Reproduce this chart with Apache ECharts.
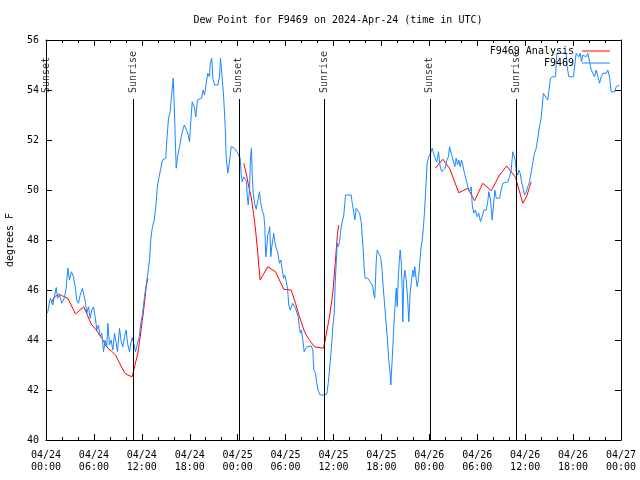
<!DOCTYPE html>
<html>
<head>
<meta charset="utf-8">
<script src="https://cdn.jsdelivr.net/npm/echarts@6/dist/echarts.min.js"></script>
<style>
html,body{margin:0;padding:0;background:#fff;}
#chart{width:640px;height:480px;}
</style>
</head>
<body>
<div id="chart"></div>
<script>
// x values are hours since 2024-04-24 00:00 UTC
var xTickLabels = ['04/24\n00:00','04/24\n06:00','04/24\n12:00','04/24\n18:00','04/25\n00:00','04/25\n06:00','04/25\n12:00','04/25\n18:00','04/26\n00:00','04/26\n06:00','04/26\n12:00','04/26\n18:00','04/27\n00:00'];
var yTicks = [40,42,44,46,48,50,52,54,56];

var sunEventNames = ['Sunset','Sunrise','Sunset','Sunrise','Sunset','Sunrise'];
var sunEventHours = [0.06,10.96,24.14,34.81,48.06,58.88];

var stationHours = [0.19,0.53,0.85,1.06,1.28,1.44,1.69,1.98,2.28,2.53,2.73,2.94,3.19,3.44,3.66,3.86,4.07,4.28,4.57,4.78,4.95,5.11,5.32,5.53,5.74,5.95,6.16,6.36,6.57,6.79,6.99,7.2,7.41,7.61,7.74,7.95,8.16,8.36,8.58,8.79,8.95,9.2,9.42,9.62,9.83,10.04,10.21,10.46,10.62,10.79,11.04,11.21,11.46,11.67,11.87,12.08,12.33,12.55,12.75,12.96,13.12,13.3,13.55,13.75,13.96,14.17,14.38,14.59,14.8,15.0,15.13,15.34,15.55,15.75,15.93,16.05,16.18,16.3,16.47,16.72,16.93,17.13,17.31,17.56,17.76,17.97,18.13,18.31,18.56,18.76,18.97,19.22,19.47,19.68,19.85,20.06,20.26,20.47,20.56,20.76,20.89,21.1,21.51,21.73,21.85,22.01,22.23,22.44,22.56,22.76,22.98,23.19,23.39,23.6,24.02,24.14,24.32,24.44,24.57,24.77,24.94,25.11,25.19,25.32,25.48,25.61,25.73,25.82,25.95,26.11,26.32,26.52,26.73,26.86,27.07,27.27,27.4,27.52,27.65,27.77,27.9,28.02,28.15,28.27,28.4,28.52,28.65,28.83,29.03,29.24,29.4,29.53,29.74,29.9,30.08,30.24,30.4,30.58,30.74,30.9,31.08,31.24,31.4,31.58,31.74,31.87,31.99,32.16,32.33,32.49,32.66,32.83,33.21,33.41,33.53,33.75,33.91,34.12,34.34,34.75,35.16,35.34,35.5,35.75,35.91,36.09,36.21,36.34,36.46,36.59,36.75,36.88,37.0,37.17,37.29,37.42,37.5,37.79,38.0,38.22,38.34,38.5,38.67,38.84,39.04,39.26,39.47,39.59,39.72,39.84,39.97,40.3,40.51,40.72,40.92,41.05,41.17,41.26,41.35,41.47,41.67,41.89,42.05,42.22,42.39,42.55,42.73,42.89,43.05,43.18,43.3,43.43,43.55,43.73,43.85,43.98,44.1,44.23,44.35,44.48,44.6,44.68,44.8,44.93,45.1,45.27,45.43,45.6,45.77,45.93,46.05,46.18,46.36,46.48,46.61,46.77,46.93,47.11,47.27,47.43,47.61,47.73,47.93,48.15,48.36,48.52,48.74,48.94,49.15,49.36,49.56,49.77,49.99,50.19,50.4,50.53,50.74,50.86,51.03,51.19,51.37,51.53,51.69,51.87,52.03,52.19,52.4,52.62,52.82,53.03,53.24,53.37,53.57,53.78,53.99,54.19,54.41,54.62,54.82,55.12,55.32,55.45,55.66,55.87,56.04,56.2,56.38,56.79,57.0,57.2,57.41,57.83,58.04,58.25,58.45,58.58,58.75,58.88,59.08,59.21,59.38,59.54,59.7,59.92,60.13,60.33,60.54,60.76,60.96,61.17,61.38,61.58,61.79,62.0,62.29,62.54,62.83,62.96,63.17,63.46,63.8,63.96,65.14,65.26,65.46,66.05,66.18,66.39,66.72,66.89,67.05,67.22,67.43,67.64,67.84,68.06,68.27,68.47,68.68,68.89,69.1,69.31,69.52,69.72,70.15,70.35,70.56,70.77,71.19,71.4,71.6,71.81];
var stationDewPoint = [45.07,45.67,45.4,45.73,46.1,45.67,45.8,45.47,45.67,46.07,46.87,46.4,46.73,46.53,46.13,45.6,45.47,45.8,46.07,46.0,45.47,45.07,45.33,44.87,45.2,45.33,44.93,44.4,44.6,44.13,44.27,43.53,44.0,43.73,44.67,43.8,44.0,43.6,44.27,43.87,43.53,44.47,43.93,43.73,44.13,44.4,43.87,43.53,43.87,44.1,43.8,43.53,43.87,44.13,44.67,45.0,45.73,46.2,46.67,47.2,48.0,48.47,48.8,49.33,50.2,50.53,50.87,51.2,51.27,51.27,52.0,52.87,53.13,53.87,54.47,53.47,52.13,50.87,51.33,51.73,52.13,52.4,52.6,52.53,52.27,51.93,52.73,53.53,53.33,52.93,53.6,53.67,53.67,54.0,53.8,54.27,54.67,54.53,55.07,55.27,54.47,54.2,54.2,54.53,55.27,54.67,53.8,52.53,51.33,50.67,51.13,51.73,51.8,51.67,51.47,51.4,51.27,50.6,50.33,50.53,50.6,50.33,49.8,49.4,50.0,51.33,51.67,50.67,49.87,49.47,49.23,49.23,49.93,49.53,49.2,49.0,48.53,47.33,47.73,48.2,48.33,48.53,47.33,47.73,48.0,48.27,47.93,47.67,47.47,47.07,47.2,46.93,46.47,46.6,46.33,46.07,45.4,45.2,45.27,45.47,45.4,45.27,45.2,44.93,44.47,44.27,44.4,44.0,43.53,43.53,43.73,43.76,43.76,43.6,42.8,42.67,42.27,41.93,41.8,41.8,41.84,42.27,42.8,43.73,44.53,45.07,46.27,47.07,47.87,47.73,47.93,48.27,48.6,48.67,49.0,49.47,49.8,49.8,49.76,49.8,49.47,49.2,48.8,49.27,49.2,49.07,48.73,48.2,47.6,46.87,46.47,46.47,46.4,46.27,46.13,45.8,45.67,46.4,47.13,47.6,47.47,47.33,46.93,46.13,45.47,44.8,44.13,43.33,42.8,42.2,42.93,43.73,44.53,45.47,46.07,45.33,46.4,47.13,47.6,47.13,46.0,44.73,46.4,46.8,46.4,45.73,44.73,45.87,46.4,46.8,46.53,46.93,46.4,46.13,46.4,46.93,47.6,48.0,48.53,49.33,50.4,51.07,51.33,51.47,51.67,51.47,51.27,51.13,51.53,50.93,50.73,50.73,50.87,51.2,51.33,51.73,51.8,51.33,51.4,50.93,51.27,51.0,51.2,50.93,51.2,51.0,50.67,50.4,50.13,49.93,50.13,49.4,49.07,49.2,48.93,49.07,48.73,48.93,49.2,49.2,49.53,49.93,49.6,48.8,49.4,50.0,49.67,49.67,50.0,50.27,50.33,50.33,50.53,50.8,51.53,51.4,51.2,50.73,50.6,50.8,50.67,50.33,50.13,49.8,49.93,50.13,50.33,50.73,51.1,51.47,51.67,52.07,52.53,52.87,53.87,53.93,53.6,53.93,54.47,54.53,54.53,55.47,55.47,54.93,54.53,54.53,54.93,55.47,55.33,55.47,55.13,55.4,55.47,55.33,55.47,55.13,54.8,54.67,54.53,54.8,54.8,54.27,54.53,54.67,54.67,54.8,54.53,53.93,53.93,54.13,54.2,54.2];

// null marks a gap in the analysis series
var analysisHours = [0.65,1.06,1.69,2.1,2.73,3.69,4.73,5.66,6.29,6.91,7.74,8.16,8.7,9.83,10.24,10.79,10.99,11.5,11.83,12.25,12.55,12.75,null,24.77,25.07,25.39,25.69,25.98,26.2,26.4,26.52,26.65,26.82,27.77,28.74,29.78,30.7,31.24,31.74,32.37,32.91,33.62,34.75,34.96,35.5,35.91,36.25,36.5,36.66,null,48.74,49.69,50.53,51.69,52.82,53.66,54.69,55.75,56.79,57.7,58.79,59.7,60.2,60.76];
var analysisDewPoint = [45.47,45.73,45.83,45.76,45.67,45.04,45.33,44.64,44.4,44.11,43.67,43.57,43.4,42.69,42.6,42.53,42.8,43.47,44.2,45.27,46.13,46.47,null,51.07,50.67,50.13,49.73,49.07,48.53,47.87,47.47,46.93,46.4,46.93,46.73,46.03,46.0,45.47,44.93,44.33,44.03,43.73,43.67,44.0,44.93,45.87,47.2,48.27,48.6,null,50.87,51.23,50.87,49.89,50.07,49.57,50.27,49.97,50.6,50.96,50.51,49.47,49.76,50.33];

var FONT = 'DejaVu Sans Mono';
var stationData = stationHours.map(function(h,i){return [h, stationDewPoint[i]];});
var analysisData = analysisHours.map(function(h,i){return h===null ? [null,null] : [h, analysisDewPoint[i]];});
var sunLineTop = 53.64;
var sunLines = sunEventHours.map(function(h){return [{coord:[h,40]},{coord:[h,sunLineTop]}];});
var sunLabels = sunEventHours.map(function(h,i){return {value:[h,53.88], name:sunEventNames[i]};});

var chart = echarts.init(document.getElementById('chart'), null, {renderer:'canvas'});
function xAxisCfg(pos, labels){
  return {
    type:'value', min:0, max:72, interval:6, position:pos,
    axisLine:{show:true, onZero:false, lineStyle:{color:'#000', width:1}},
    axisTick:{show:true, inside:true, length:6, lineStyle:{color:'#000'}},
    minorTick:{show:true, splitNumber:3, length:3, lineStyle:{color:'#000'}},
    splitLine:{show:false}, minorSplitLine:{show:false},
    axisLabel: labels ? {show:true, margin:9, fontFamily:FONT, fontSize:10, color:'#000', lineHeight:12,
        formatter:function(v){var i=Math.round(v/6); return xTickLabels[i]||'';}} : {show:false}
  };
}
function yAxisCfg(pos, labels){
  var c = {
    type:'value', min:40, max:56, interval:2, position:pos,
    axisLine:{show:true, onZero:false, lineStyle:{color:'#000', width:1}},
    axisTick:{show:true, inside:true, length:6, lineStyle:{color:'#000'}},
    splitLine:{show:false},
    axisLabel: labels ? {show:true, margin:7, fontFamily:FONT, fontSize:10, color:'#000',
        formatter:function(v){return yTicks.indexOf(v)>=0 ? String(v) : '';}} : {show:false}
  };
  if(labels){
    c.name='degrees F'; c.nameLocation='middle'; c.nameGap=31; c.nameRotate=90;
    c.nameTextStyle={fontFamily:FONT, fontSize:10, color:'#000'};
  }
  return c;
}
chart.setOption({
  animation:false,
  backgroundColor:'#fff',
  title:{text:'Dew Point for F9469 on 2024-Apr-24 (time in UTC)', left:333, top:10, textAlign:'center',
    textStyle:{fontFamily:FONT, fontSize:10, fontWeight:'normal', color:'#000'}},
  grid:{left:46, right:19, top:40, bottom:40, containLabel:false, outerBoundsMode:'none'},
  legend:[
    {data:['F9469 Analysis'], right:25, top:41, selectedMode:false, align:'right', icon:'rect', itemWidth:28, itemHeight:1, itemGap:0,
     textStyle:{fontFamily:FONT, fontSize:10, color:'#000', padding:[0,3,0,0]}},
    {data:['F9469'], right:25, top:53, selectedMode:false, align:'right', icon:'rect', itemWidth:28, itemHeight:1, itemGap:0,
     textStyle:{fontFamily:FONT, fontSize:10, color:'#000', padding:[0,3,0,0]}}
  ],
  xAxis:[xAxisCfg('bottom', true), xAxisCfg('top', false)],
  yAxis:[yAxisCfg('left', true), yAxisCfg('right', false)],
  series:[
    {name:'sun', type:'line', data:[], xAxisIndex:0, yAxisIndex:0, silent:true,
      markLine:{silent:true, symbol:['none','none'], label:{show:false},
        lineStyle:{color:'#000', width:1, type:'solid'}, data:sunLines}},
    {name:'sunLabels', type:'scatter', data:sunLabels, symbolSize:0, silent:true,
      label:{show:true, formatter:'{b}', position:[0,0], rotate:90, align:'left', verticalAlign:'middle',
        fontFamily:FONT, fontSize:10, color:'#000'}},
    {name:'F9469 Analysis', type:'line', data:analysisData, showSymbol:false, symbol:'none', connectNulls:false,
      lineStyle:{color:'#ff0000', width:1}, itemStyle:{color:'#ff0000'}},
    {name:'F9469', type:'line', data:stationData, showSymbol:false, symbol:'none',
      lineStyle:{color:'#1a88ff', width:1}, itemStyle:{color:'#1a88ff'}}
  ]
});
</script>
</body>
</html>
